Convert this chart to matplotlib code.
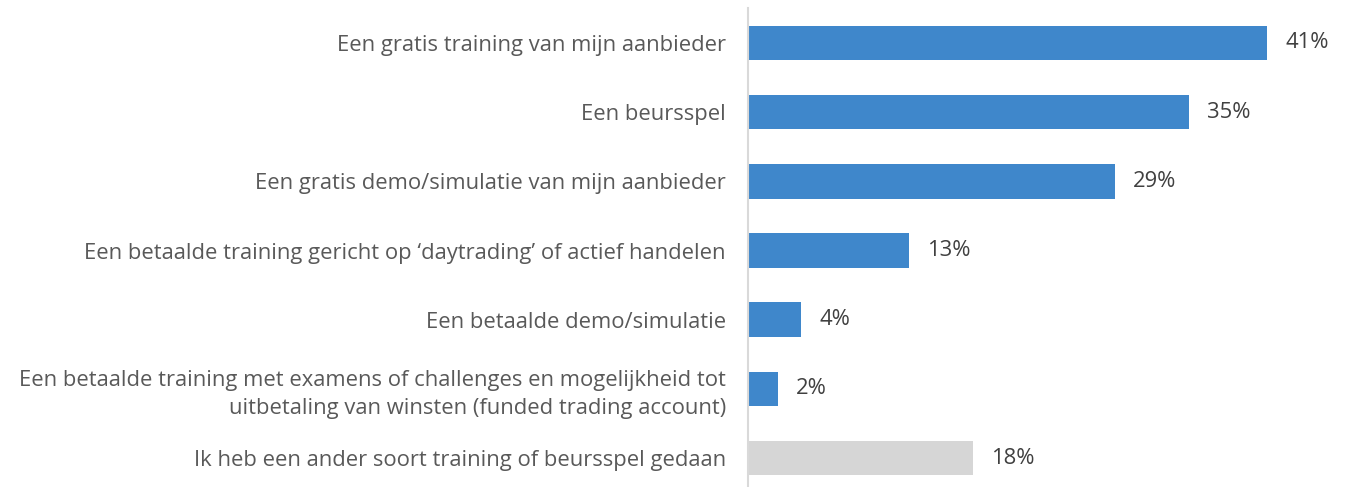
import matplotlib
matplotlib.use("Agg")
import matplotlib.pyplot as plt

categories = [
    "Een gratis training van mijn aanbieder",
    "Een beursspel",
    "Een gratis demo/simulatie van mijn aanbieder",
    "Een betaalde training gericht op \u2018daytrading\u2019 of actief handelen",
    "Een betaalde demo/simulatie",
    "Een betaalde training met examens of challenges en mogelijkheid tot\nuitbetaling van winsten (funded trading account)",
    "Ik heb een ander soort training of beursspel gedaan",
]
values = [41.0, 34.8, 29.0, 12.7, 4.2, 2.4, 17.8]
labels = ["41%", "35%", "29%", "13%", "4%", "2%", "18%"]
colors = ["#3F87CB"] * 6 + ["#D6D6D6"]

plt.rcParams['font.family'] = ['Open Sans', 'DejaVu Sans']

W, H = 1354, 487
fig = plt.figure(figsize=(W / 100, H / 100), dpi=100)
left = 748 / W
ax_h = 484.4
ax = fig.add_axes([left, (H - 8.4 - ax_h) / H, 1 - left, ax_h / H])

y = list(range(len(categories)))
ax.barh(y, values, height=0.5, color=colors, zorder=2)
ax.set_ylim(len(categories) - 0.5, -0.5)
ax.set_xlim(0, (W - 748) / 12.66)

for yi, v, lab in zip(y, values, labels):
    ax.text(v + 1.42, yi, lab, va='center', ha='left', fontsize=15.8, color='#404040')

ax.set_yticks(y)
ax.set_yticklabels(categories, fontsize=15.8, color='#595959', linespacing=1.4)
ax.tick_params(axis='y', length=0, pad=16)
ax.set_xticks([])
for s in ['top', 'right', 'bottom']:
    ax.spines[s].set_visible(False)
ax.spines['left'].set_color('#D9D9D9')
ax.spines['left'].set_linewidth(1.5)
ax.patch.set_alpha(0)

fig.savefig("out.png", dpi=100)
